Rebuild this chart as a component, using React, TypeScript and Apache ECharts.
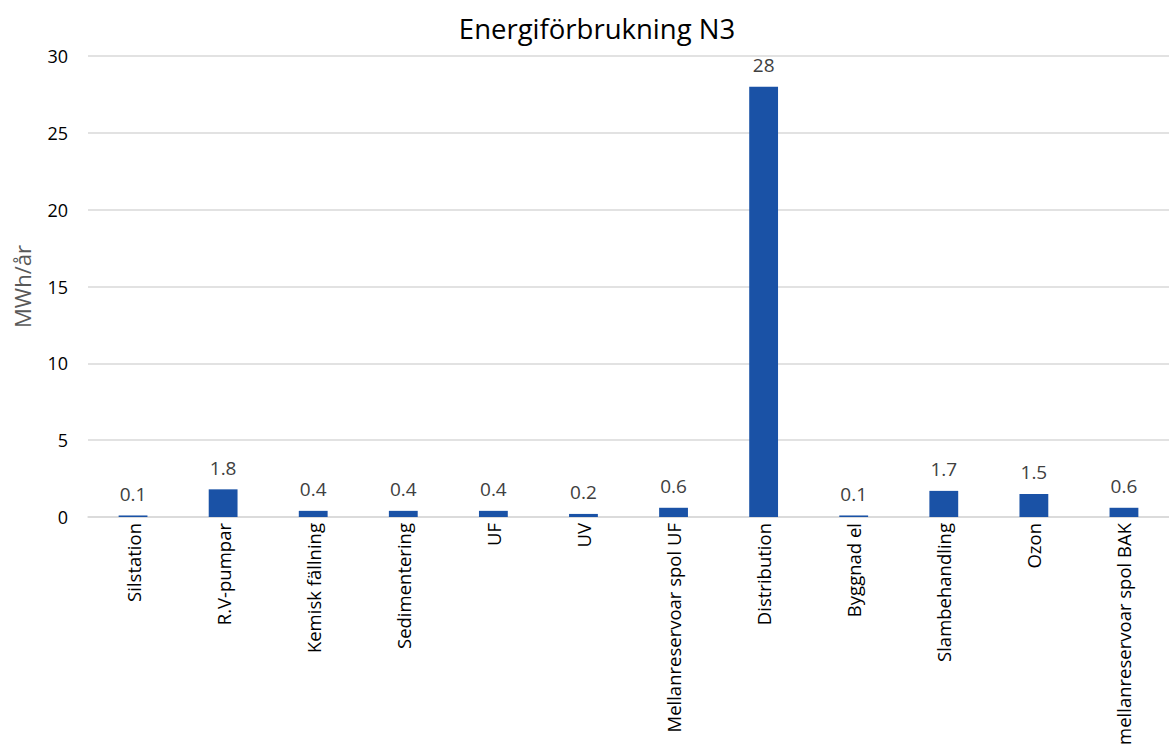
import React, { useEffect, useRef } from "react";
import * as echarts from "echarts";

const categories = [
  "Silstation",
  "R.V-pumpar",
  "Kemisk fällning",
  "Sedimentering",
  "UF",
  "UV",
  "Mellanreservoar spol UF",
  "Distribution",
  "Byggnad el",
  "Slambehandling",
  "Ozon",
  "mellanreservoar spol BAK",
];
const values = [0.1, 1.8, 0.4, 0.4, 0.4, 0.2, 0.6, 28, 0.1, 1.7, 1.5, 0.6];
const titleText = "Energiförbrukning N3";
const yAxisName = "MWh/år";

export default function App() {
  const ref = useRef<HTMLDivElement>(null);
  useEffect(() => {
    if (!ref.current) return;
    document.body.style.margin = "0";
    const chart = echarts.init(ref.current, null, { renderer: "svg" });
    const font = "'Open Sans', sans-serif";
    chart.setOption({
      animation: false,
      textStyle: { fontFamily: font },
      title: {
        text: titleText,
        left: 592,
        textAlign: "center",
        top: 9,
        textStyle: { fontSize: 27.5, fontWeight: "normal", color: "#000", fontFamily: font },
      },
      grid: { left: 88, top: 56, width: 1086, height: 461, containLabel: false },
      xAxis: {
        type: "category",
        data: categories,
        axisLine: { lineStyle: { color: "#d9d9d9", width: 1.5 } },
        axisTick: { show: false },
        axisLabel: {
          rotate: 90,
          interval: 0,
          fontSize: 18.5,
          color: "#000",
          margin: 6,
          fontFamily: font,
        },
      },
      yAxis: {
        type: "value",
        min: 0,
        max: 30,
        interval: 5,
        name: yAxisName,
        nameLocation: "middle",
        nameGap: 55,
        nameTextStyle: { fontSize: 22, color: "#595959", fontFamily: font },
        axisLine: { show: false },
        axisTick: { show: false },
        axisLabel: { fontSize: 18, color: "#000", margin: 20, fontFamily: font },
        splitLine: { lineStyle: { color: "#d9d9d9", width: 1.5 } },
      },
      series: [
        {
          type: "bar",
          data: values,
          barWidth: "32%",
          itemStyle: { color: "#1A52A6" },
          label: {
            show: true,
            position: "top",
            distance: 12,
            fontSize: 19,
            color: "#404040",
            fontFamily: font,
          },
        },
      ],
    });
    return () => chart.dispose();
  }, []);
  return (
    <div
      ref={ref}
      style={{ position: "absolute", left: 0, top: 0, width: 1169, height: 751, background: "#fff" }}
    />
  );
}
